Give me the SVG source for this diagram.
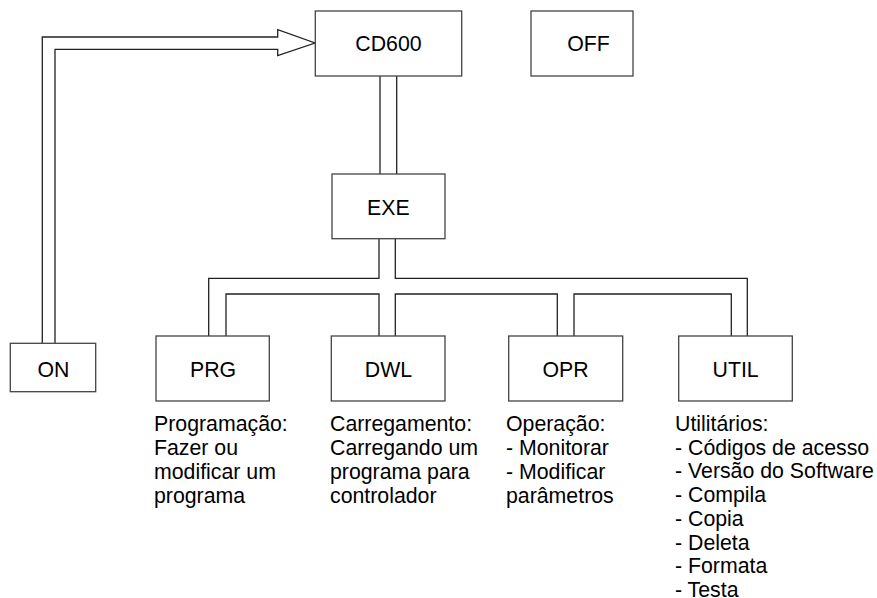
<svg xmlns="http://www.w3.org/2000/svg" width="877" height="598" viewBox="0 0 877 598">
<style>
.box{fill:#fff;stroke:#444;stroke-width:1.3}
.c{fill:none;stroke:#222;stroke-width:1.3}
.lbl{font-family:"Liberation Sans",Arial,sans-serif;font-size:21.3px;fill:#000;text-anchor:middle}
.d{font-family:"Liberation Sans",Arial,sans-serif;font-size:21.3px;fill:#000}
</style>
<rect width="877" height="598" fill="#fff"/>
<g id="connectors">
<path class="c" d="M42.3,343.3 V37 H277.7 V29.7 L315,43 L277.7,55.7 V49.3 H55 V343.3"/>
<path class="c" d="M380,76 V174 M396.7,76 V174"/>
<path class="c" d="M379,239 V278.3 H208.7 V336"/>
<path class="c" d="M226,336 V294 H379 V336"/>
<path class="c" d="M395.3,336 V294 H557.3 V336"/>
<path class="c" d="M574,336 V294 H731.3 V336"/>
<path class="c" d="M747.3,336 V278.3 H395.3 V239"/>
</g>
<g id="cd600"><rect class="box" x="315.3" y="11" width="146.4" height="65"/><text class="lbl" x="388.5" y="50.5">CD600</text></g>
<g id="off"><rect class="box" x="531" y="11" width="102" height="65"/><text class="lbl" x="588.5" y="51">OFF</text></g>
<g id="exe"><rect class="box" x="332" y="174" width="113" height="64.7"/><text class="lbl" x="388.3" y="214.5">EXE</text></g>
<g id="on"><rect class="box" x="10.3" y="343.3" width="85.4" height="48.4"/><text class="lbl" x="53.5" y="376.5">ON</text></g>
<g id="prg"><rect class="box" x="156" y="336" width="113.3" height="65"/><text class="lbl" x="213" y="376.5">PRG</text>
<text class="d" x="154" y="431">Programação:</text><text class="d" x="154" y="455">Fazer ou</text><text class="d" x="154" y="479">modificar um</text><text class="d" x="154" y="502.5">programa</text></g>
<g id="dwl"><rect class="box" x="331.3" y="336" width="113.7" height="65"/><text class="lbl" x="388.5" y="376.5">DWL</text>
<text class="d" x="330" y="431">Carregamento:</text><text class="d" x="330" y="455">Carregando um</text><text class="d" x="330" y="479">programa para</text><text class="d" x="330" y="502.5">controlador</text></g>
<g id="opr"><rect class="box" x="508.7" y="336" width="114" height="65"/><text class="lbl" x="565.5" y="376.5">OPR</text>
<text class="d" x="506" y="431">Operação:</text><text class="d" x="506" y="455">- Monitorar</text><text class="d" x="506" y="479">- Modificar</text><text class="d" x="506" y="502.5">parâmetros</text></g>
<g id="util"><rect class="box" x="678.7" y="336" width="113.6" height="65"/><text class="lbl" x="735.6" y="376.5">UTIL</text>
<text class="d" x="675" y="431">Utilitários:</text><text class="d" x="675" y="454.7">- Códigos de acesso</text><text class="d" x="675" y="478.4">- Versão do Software</text><text class="d" x="675" y="502.1">- Compila</text><text class="d" x="675" y="525.8">- Copia</text><text class="d" x="675" y="549.5">- Deleta</text><text class="d" x="675" y="573.2">- Formata</text><text class="d" x="675" y="596.9">- Testa</text></g>
</svg>
